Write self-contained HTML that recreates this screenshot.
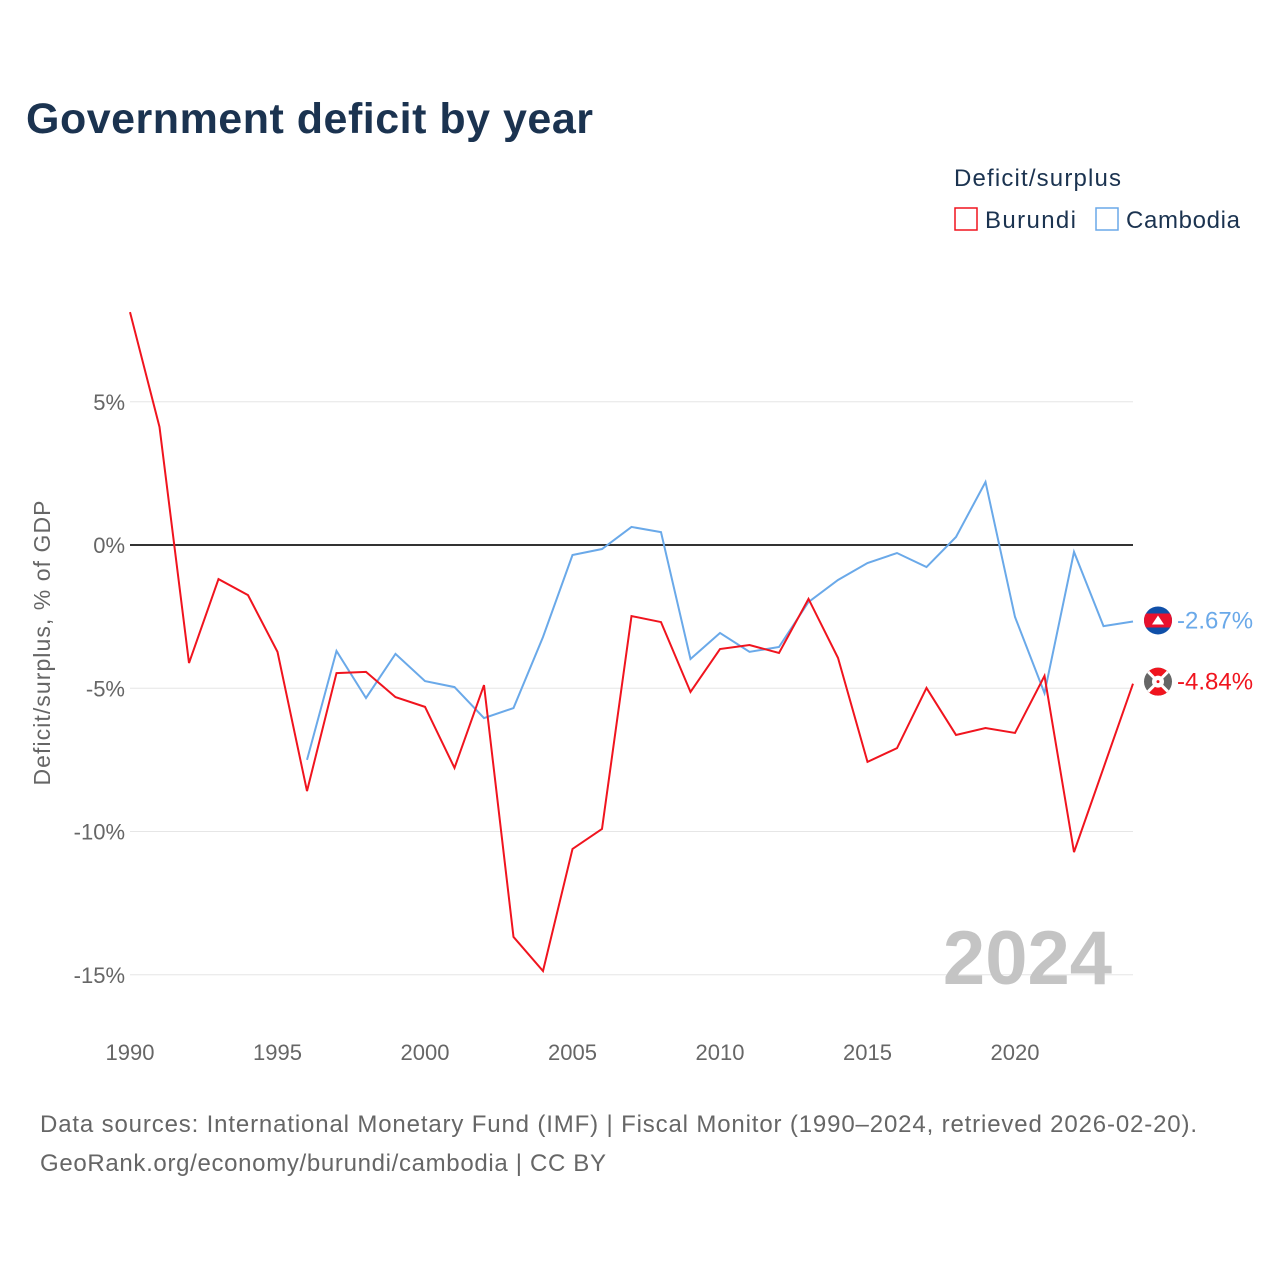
<!DOCTYPE html>
<html><head><meta charset="utf-8"><style>
body{margin:0;width:1280px;height:1280px;background:#fff;overflow:hidden;font-family:"Liberation Sans",sans-serif}
#c{position:absolute;left:0;top:0}
</style></head><body>
<svg id="c" width="1280" height="1280">
<text x="26" y="133" font-size="43" font-weight="bold" fill="#1b3350" textLength="567">Government deficit by year</text>
<text x="954" y="186" font-size="24" fill="#1b3350" textLength="167">Deficit/surplus</text>
<g><rect x="955" y="208" width="22" height="22" fill="none" stroke="#f0141e" stroke-width="1.5"/><text x="985" y="228" font-size="24" fill="#1b3350" textLength="91">Burundi</text></g>
<g><rect x="1096" y="208" width="22" height="22" fill="none" stroke="#6aa9e9" stroke-width="1.5"/><text x="1126" y="228" font-size="24" fill="#1b3350" textLength="114">Cambodia</text></g>
<text transform="translate(50,643) rotate(-90)" text-anchor="middle" font-size="23" fill="#666" textLength="285">Deficit/surplus, % of GDP</text>
<g id="grid"></g><g id="lines"></g>
<text x="1112" y="984" text-anchor="end" font-size="76" font-weight="bold" fill="#c4c4c4">2024</text>
<text x="40" y="1132" font-size="24" fill="#666" textLength="1157">Data sources: International Monetary Fund (IMF) | Fiscal Monitor (1990–2024, retrieved 2026-02-20).</text>
<text x="40" y="1171" font-size="24" fill="#666" textLength="566">GeoRank.org/economy/burundi/cambodia | CC BY</text>
</svg>
<script>
const years=[];for(let y=1990;y<=2024;y++)years.push(y);
const burundi=[8.13,4.12,-4.12,-1.19,-1.75,-3.73,-8.59,-4.47,-4.43,-5.31,-5.65,-7.78,-4.89,-13.68,-14.87,-10.61,-9.91,-2.48,-2.69,-5.13,-3.63,-3.49,-3.77,-1.88,-3.94,-7.57,-7.09,-4.99,-6.63,-6.39,-6.56,-4.57,-10.72,-7.78,-4.84];
const cambodia=[null,null,null,null,null,null,-7.50,-3.70,-5.34,-3.80,-4.75,-4.96,-6.04,-5.69,-3.21,-0.35,-0.14,0.63,0.45,-3.98,-3.07,-3.73,-3.56,-1.99,-1.22,-0.63,-0.28,-0.77,0.28,2.20,-2.51,-5.17,-0.24,-2.83,-2.67];
const yTicks=[5,0,-5,-10,-15];
const xTicks=[1990,1995,2000,2005,2010,2015,2020];
const X=y=>130+(y-1990)*29.5, Y=v=>545-v*28.65;
const NS="http://www.w3.org/2000/svg";
function mk(t,a,p){const e=document.createElementNS(NS,t);for(const k in a)e.setAttribute(k,a[k]);p.appendChild(e);return e;}
const g=document.getElementById('grid'),L=document.getElementById('lines'),svg=document.getElementById('c');
yTicks.forEach(v=>{
 const l=mk('line',{x1:130,x2:1133,y1:Y(v),y2:Y(v),stroke:v===0?'#333':'#e6e6e6','stroke-width':v===0?2:1},g);
 
 
 const t=mk('text',{x:125,y:Y(v)+8,'text-anchor':'end','font-size':22,fill:'#666'},g);t.textContent=v+'%';
 
 
});
xTicks.forEach(v=>{
 const t=mk('text',{x:X(v),y:1060,'text-anchor':'middle','font-size':22,fill:'#666'},g);t.textContent=v;
 
 
});
function line(arr,col,name){
 let d='';arr.forEach((v,i)=>{if(v===null)return;d+=(d?'L':'M')+X(years[i])+','+Y(v);});
 const p=mk('path',{d:d,fill:'none',stroke:col,'stroke-width':2},L);
 
 
}
line(cambodia,'#6aa9e9','cambodia-line');
line(burundi,'#f0141e','burundi-line');
const cv=cambodia[cambodia.length-1],bv=burundi[burundi.length-1];
const fc=mk('g',{},svg);
const cy=Y(cv)-1;
mk('clipPath',{id:'cc'},fc).appendChild(document.createElementNS(NS,'circle'));
const cc=document.querySelector('#cc circle');cc.setAttribute('cx',1158);cc.setAttribute('cy',cy);cc.setAttribute('r',14);
mk('rect',{x:1144,y:cy-14,width:28,height:28,fill:'#0f4fa8','clip-path':'url(#cc)'},fc);
mk('rect',{x:1144,y:cy-7,width:28,height:14,fill:'#e8112d','clip-path':'url(#cc)'},fc);
mk('polygon',{points:`1152,${cy+4} 1164,${cy+4} 1160,${cy-2} 1158,${cy-5} 1156,${cy-2}`,fill:'#fff'},fc);
const by=Y(bv)-2;
const fb=mk('g',{},svg);
mk('clipPath',{id:'cb'},fb).appendChild(document.createElementNS(NS,'circle'));
const cb=document.querySelector('#cb circle');cb.setAttribute('cx',1158);cb.setAttribute('cy',by);cb.setAttribute('r',14);
mk('circle',{cx:1158,cy:by,r:14,fill:'#666'},fb);
mk('path',{d:`M1144,${by-14}L1172,${by-14}L1158,${by}Z M1144,${by+14}L1172,${by+14}L1158,${by}Z`,fill:'#f0141e','clip-path':'url(#cb)'},fb);
mk('path',{d:`M1146,${by-12}L1170,${by+12}M1170,${by-12}L1146,${by+12}`,stroke:'#fff','stroke-width':3,'clip-path':'url(#cb)'},fb);
mk('circle',{cx:1158,cy:by,r:6,fill:'#fff'},fb);
mk('circle',{cx:1158,cy:by,r:1.5,fill:'#f0141e'},fb);
const tc=mk('text',{x:1177,y:cy+8,'font-size':24,fill:'#6aa9e9'},svg);tc.textContent=cv.toFixed(2)+'%';


const tb=mk('text',{x:1177,y:by+8,'font-size':24,fill:'#f0141e'},svg);tb.textContent=bv.toFixed(2)+'%';


</script>
</body></html>
